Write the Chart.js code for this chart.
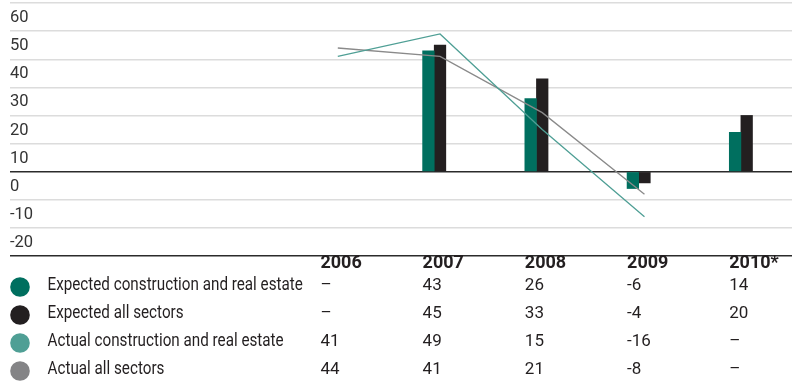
<!DOCTYPE html>
<html>
<head>
<meta charset="utf-8">
<script src="https://cdn.jsdelivr.net/npm/chart.js@4/dist/chart.umd.min.js"></script>
<style>
  html, body { margin: 0; padding: 0; background: #fff; }
  #wrap { width: 797px; height: 381px; position: relative; }
</style>
</head>
<body>
<div id="wrap"><canvas id="c" width="797" height="381"></canvas></div>
<script>
// Survey years and series (percentage balances)
const years = ['2006', '2007', '2008', '2009', '2010*'];
const expectedConstruction = [null, 43, 26, -6, 14];
const expectedAll = [null, 45, 33, -4, 20];
const actualConstruction = [41, 49, 15, -16, null];
const actualAll = [44, 41, 21, -8, null];
const seriesNames = [
  'Expected construction and real estate',
  'Expected all sectors',
  'Actual construction and real estate',
  'Actual all sectors'
];
const yMin = -30, yMax = 60, yStep = 10;

const colors = ['#006f5f', '#231f20', '#4f9f95', '#848486'];
const FONT = 'Roboto, "Liberation Sans", Arial, sans-serif';
const BAR_W = 11.6;

const toPoints = arr => arr.map((v, i) => ({ x: i, y: v }));

// Shift the two "actual" lines so they sit over the right-hand bar of each year
const lineShift = {
  id: 'lineShift',
  beforeDatasetDraw(chart, args) {
    if (args.meta.type !== 'line') return;
    chart.ctx.save();
    chart.ctx.translate(BAR_W / 2, 0);
  },
  afterDatasetDraw(chart, args) {
    if (args.meta.type !== 'line') return;
    chart.ctx.restore();
  }
};

// Data table with legend markers below the plot
const dataTable = {
  id: 'dataTable',
  afterDraw(chart) {
    const ctx = chart.ctx;
    const xs = chart.scales.x;
    const colLeft = i => xs.getPixelForValue(i) - BAR_W;
    const rows = [expectedConstruction, expectedAll, actualConstruction, actualAll];
    const headerY = 263.5;
    const rowY = [285.5, 313.5, 341.5, 369.5];
    ctx.save();
    ctx.textBaseline = 'middle';
    ctx.textAlign = 'left';
    ctx.fillStyle = '#231f20';
    ctx.font = 'bold 18px ' + FONT;
    years.forEach((y, i) => ctx.fillText(y, colLeft(i), headerY));
    rows.forEach((arr, r) => {
      ctx.fillStyle = colors[r];
      ctx.beginPath();
      ctx.arc(20, rowY[r] + 1.5, 9.8, 0, Math.PI * 2);
      ctx.fill();
      ctx.fillStyle = '#231f20';
      // series names are set in a condensed face
      ctx.save();
      ctx.font = '17.5px ' + FONT;
      ctx.translate(47.5, rowY[r]);
      ctx.scale(0.87, 1);
      ctx.fillText(seriesNames[r], 0, 0);
      ctx.restore();
      ctx.font = '17px ' + FONT;
      arr.forEach((v, i) => {
        ctx.fillText(v === null ? '–' : String(v), colLeft(i), rowY[r]);
      });
    });
    ctx.restore();
  }
};

new Chart(document.getElementById('c'), {
  data: {
    datasets: [
      { type: 'bar', label: seriesNames[0], data: toPoints(expectedConstruction),
        backgroundColor: colors[0], barThickness: BAR_W, order: 2 },
      { type: 'bar', label: seriesNames[1], data: toPoints(expectedAll),
        backgroundColor: colors[1], barThickness: BAR_W, order: 2 },
      { type: 'line', label: seriesNames[2], data: toPoints(actualConstruction),
        borderColor: colors[2], borderWidth: 1.3, pointRadius: 0, tension: 0, order: 0 },
      { type: 'line', label: seriesNames[3], data: toPoints(actualAll),
        borderColor: '#8a8a8a', borderWidth: 1.3, pointRadius: 0, tension: 0, order: 1 }
    ]
  },
  options: {
    responsive: false,
    animation: false,
    events: [],
    layout: { padding: { left: 10, right: 5, top: 3, bottom: 125 } },
    plugins: { legend: { display: false }, tooltip: { enabled: false } },
    scales: {
      x: {
        type: 'linear', display: false, offset: false, min: -3.15, max: 4.5,
        grid: { display: false }
      },
      y: {
        min: yMin, max: yMax,
        afterFit: s => { s.width = 0; s.paddingTop = 0; s.paddingBottom = 0; },
        border: { display: false },
        grid: {
          drawTicks: false,
          color: c => (c.tick.value === 0 || c.tick.value === yMin) ? '#2b2b2b' : '#dcdcdc',
          lineWidth: c => (c.tick.value === 0 || c.tick.value === yMin) ? 1.6 : 1.4
        },
        ticks: {
          stepSize: yStep,
          mirror: true,
          padding: 0,
          labelOffset: 15,
          color: '#333',
          font: { family: FONT, size: 16.5 },
          callback: v => (v === yMin ? '' : String(v))
        }
      }
    }
  },
  plugins: [lineShift, dataTable]
});
</script>
</body>
</html>
